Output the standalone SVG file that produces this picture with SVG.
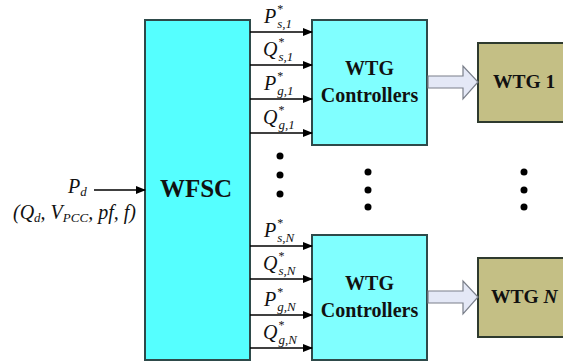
<svg xmlns="http://www.w3.org/2000/svg" width="563" height="363" viewBox="0 0 563 363" font-family="'Liberation Serif','Times New Roman','DejaVu Serif',serif">
<defs>
<marker id="ah" markerWidth="10" markerHeight="8" refX="9" refY="4" orient="auto" markerUnits="userSpaceOnUse">
<path d="M0,0 L10,4 L0,8 Z" fill="#000"/>
</marker>
<style>
text{font-family:'Liberation Serif','Times New Roman','DejaVu Serif',serif}
.cy{fill:#55FFFF;stroke:#2E4A4A;stroke-width:2}
.cy2{fill:#80FFFF;stroke:#2E4A4A;stroke-width:2}
.ol{fill:#C4BF85;stroke:#2E3A2E;stroke-width:2}
.ln{stroke:#000;stroke-width:1.6;fill:none}
.big{font-weight:bold;fill:#111}
.it{font-style:italic;font-size:20px;fill:#111}
.sub{font-size:13px}
.st{font-style:normal;font-size:12px}
.hol{fill:#E4E8F6;stroke:#7A7F8A;stroke-width:1.2}
</style>
</defs>
<rect width="563" height="363" fill="#fff"/>
<g id="wfsc">
<rect class="cy" x="145" y="20" width="105" height="340"/>
<text class="big" x="196" y="197" font-size="25" text-anchor="middle">WFSC</text>
</g>
<g id="ctrl1">
<rect class="cy2" x="312" y="20" width="115" height="125"/>
<text class="big" x="369.5" y="75" font-size="20" text-anchor="middle">WTG</text>
<text class="big" x="369.5" y="102" font-size="20" text-anchor="middle">Controllers</text>
</g>
<g id="ctrlN">
<rect class="cy2" x="312" y="235" width="115" height="125"/>
<text class="big" x="369.5" y="290" font-size="20" text-anchor="middle">WTG</text>
<text class="big" x="369.5" y="317" font-size="20" text-anchor="middle">Controllers</text>
</g>
<g id="wtg1">
<rect class="ol" x="478" y="43" width="90" height="79"/>
<text class="big" x="493" y="88" font-size="19.5">WTG 1</text>
</g>
<g id="wtgN">
<rect class="ol" x="478" y="258" width="90" height="79"/>
<text class="big" x="491" y="303" font-size="19.5">WTG <tspan font-style="italic">N</tspan></text>
</g>
<g id="connectors">
<line class="ln" x1="94" y1="190" x2="145" y2="190" marker-end="url(#ah)"/>
<line class="ln" x1="250" y1="32" x2="312" y2="32" marker-end="url(#ah)"/>
<line class="ln" x1="250" y1="65" x2="312" y2="65" marker-end="url(#ah)"/>
<line class="ln" x1="250" y1="99" x2="312" y2="99" marker-end="url(#ah)"/>
<line class="ln" x1="250" y1="133" x2="312" y2="133" marker-end="url(#ah)"/>
<line class="ln" x1="250" y1="246" x2="312" y2="246" marker-end="url(#ah)"/>
<line class="ln" x1="250" y1="279" x2="312" y2="279" marker-end="url(#ah)"/>
<line class="ln" x1="250" y1="315" x2="312" y2="315" marker-end="url(#ah)"/>
<line class="ln" x1="250" y1="348" x2="312" y2="348" marker-end="url(#ah)"/>
<path class="hol" d="M428,76 L463,76 L463,66 L478,82 L463,99 L463,88 L428,88 Z"/>
<path class="hol" d="M428,291 L463,291 L463,281 L478,297 L463,314 L463,303 L428,303 Z"/>
</g>
<g id="labels">
<text class="it" x="68" y="193">P<tspan class="sub" dy="3">d</tspan></text>
<text class="it" x="13" y="219" font-size="18">(Q<tspan class="sub" dy="3">d</tspan><tspan dy="-3">, V</tspan><tspan class="sub" dy="3">PCC</tspan><tspan dy="-3">, pf, f)</tspan></text>
<text class="it" x="264" y="23">P<tspan class="st" dx="1" dy="-10">*</tspan><tspan class="sub" dx="-6" dy="14.5">s,1</tspan></text>
<text class="it" x="263" y="56">Q<tspan class="st" dx="1" dy="-10">*</tspan><tspan class="sub" dx="-6" dy="14.5">s,1</tspan></text>
<text class="it" x="264" y="90">P<tspan class="st" dx="1" dy="-10">*</tspan><tspan class="sub" dx="-6" dy="14.5">g,1</tspan></text>
<text class="it" x="263" y="124">Q<tspan class="st" dx="1" dy="-10">*</tspan><tspan class="sub" dx="-6" dy="14.5">g,1</tspan></text>
<text class="it" x="264" y="237">P<tspan class="st" dx="1" dy="-10">*</tspan><tspan class="sub" dx="-6" dy="14.5">s,N</tspan></text>
<text class="it" x="263" y="270">Q<tspan class="st" dx="1" dy="-10">*</tspan><tspan class="sub" dx="-6" dy="14.5">s,N</tspan></text>
<text class="it" x="264" y="306">P<tspan class="st" dx="1" dy="-10">*</tspan><tspan class="sub" dx="-6" dy="14.5">g,N</tspan></text>
<text class="it" x="263" y="339">Q<tspan class="st" dx="1" dy="-10">*</tspan><tspan class="sub" dx="-6" dy="14.5">g,N</tspan></text>
</g>
<g id="dots" fill="#000">
<circle cx="280" cy="156" r="3.5"/><circle cx="280" cy="175" r="3.5"/><circle cx="280" cy="194" r="3.5"/>
<circle cx="368" cy="172" r="3.5"/><circle cx="368" cy="190" r="3.5"/><circle cx="368" cy="207" r="3.5"/>
<circle cx="524" cy="172" r="3.5"/><circle cx="524" cy="190" r="3.5"/><circle cx="524" cy="207" r="3.5"/>
</g>
</svg>
